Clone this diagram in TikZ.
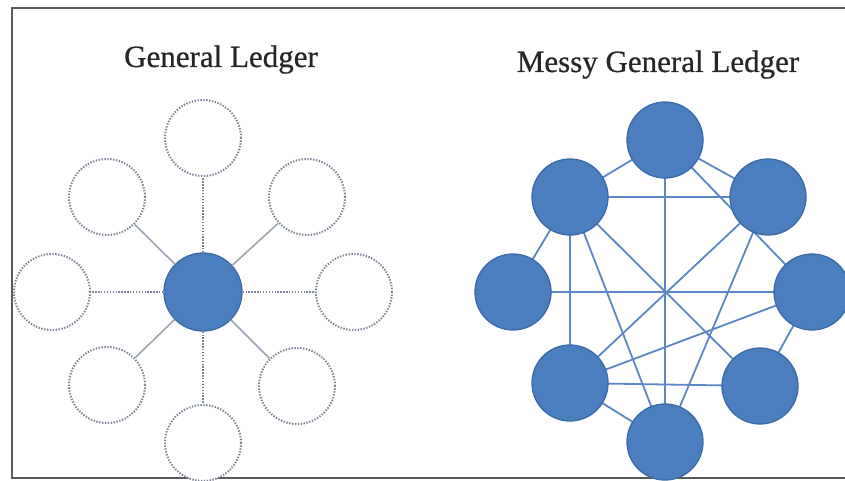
\documentclass[tikz,border=0pt]{standalone}
\usepackage{fontspec}
\setmainfont{Liberation Serif}
\newfontfamily\titlefont[FakeBold=0.6]{Liberation Serif}
\definecolor{nodeblue}{HTML}{4A7EBE}
\definecolor{nodeedge}{HTML}{3B6BA6}
\definecolor{edgeblue}{HTML}{5B87C6}
\definecolor{dotgray}{HTML}{7A8497}
\definecolor{diaggray}{HTML}{9CA6B6}
\definecolor{framegray}{HTML}{5A5A5A}
\begin{document}
\begin{tikzpicture}[x=1pt,y=-1pt,
  hollow/.style={circle,draw=dotgray,line width=2pt,dash pattern=on 1.4pt off 1.5pt,fill=white,minimum size=76pt,inner sep=0pt},
  solidnode/.style={circle,draw=nodeedge,line width=1.3pt,fill=nodeblue,minimum size=76pt,inner sep=0pt},
  dotline/.style={draw=dotgray,line width=1.9pt,dash pattern=on 1.4pt off 1.5pt},
  diagline/.style={draw=diaggray,line width=1.6pt},
  messline/.style={draw=edgeblue,line width=1.8pt},
  title/.style={font=\titlefont\fontsize{31}{34}\selectfont,anchor=base,inner sep=0pt,text=black!85}]
\useasboundingbox (0,0) rectangle (845,481);
\fill[white] (0,0) rectangle (845,481);
\begin{scope}
\clip (0,0) rectangle (845,481);
% frame
\draw[framegray,line width=1.6pt] (845,8) -- (12,8) -- (12,478) -- (845,478);
% titles
\node[title] (t1) at (221,67) {General Ledger};
\node[title] (t2) at (658,72) {Messy General Ledger};
% left graph
\node[solidnode,minimum size=78pt] (c) at (203,292) {};
\node[hollow] (a1) at (203,138) {};
\node[hollow] (a2) at (307,197) {};
\node[hollow] (a3) at (354,292) {};
\node[hollow] (a4) at (297,386) {};
\node[hollow] (a5) at (203,443) {};
\node[hollow] (a6) at (107,385) {};
\node[hollow] (a7) at (52,292) {};
\node[hollow] (a8) at (107,197) {};
\draw[dotline] (c) -- (a1);
\draw[dotline] (c) -- (a3);
\draw[dotline] (c) -- (a5);
\draw[dotline] (c) -- (a7);
\draw[diagline] (c) -- (a2);
\draw[diagline] (c) -- (a4);
\draw[diagline] (c) -- (a6);
\draw[diagline] (c) -- (a8);
% right graph coordinates
\coordinate (pT) at (665,140);
\coordinate (pUR) at (768,197);
\coordinate (pR) at (812,292);
\coordinate (pLR) at (760,386);
\coordinate (pB) at (665,442);
\coordinate (pLL) at (570,383);
\coordinate (pL) at (513,292);
\coordinate (pUL) at (570,197);
\draw[messline] (pT) -- (pUL);
\draw[messline] (pT) -- (pUR);
\draw[messline] (pT) -- (pB);
\draw[messline] (pT) -- (pR);
\draw[messline] (pUL) -- (pUR);
\draw[messline] (pUL) -- (pL);
\draw[messline] (pUL) -- (pLL);
\draw[messline] (pUL) -- (pB);
\draw[messline] (pUL) -- (pLR);
\draw[messline] (pL) -- (pR);
\draw[messline] (pUR) -- (pLL);
\draw[messline] (pUR) -- (pB);
\draw[messline] (pR) -- (pLL);
\draw[messline] (pR) -- (pLR);
\draw[messline] (pLL) -- (pLR);
\draw[messline] (pLL) -- (pB);
\node[solidnode] (bT) at (pT) {};
\node[solidnode] (bUR) at (pUR) {};
\node[solidnode] (bR) at (pR) {};
\node[solidnode] (bLR) at (pLR) {};
\node[solidnode] (bB) at (pB) {};
\node[solidnode] (bLL) at (pLL) {};
\node[solidnode] (bL) at (pL) {};
\node[solidnode] (bUL) at (pUL) {};
\end{scope}
\end{tikzpicture}
\end{document}
